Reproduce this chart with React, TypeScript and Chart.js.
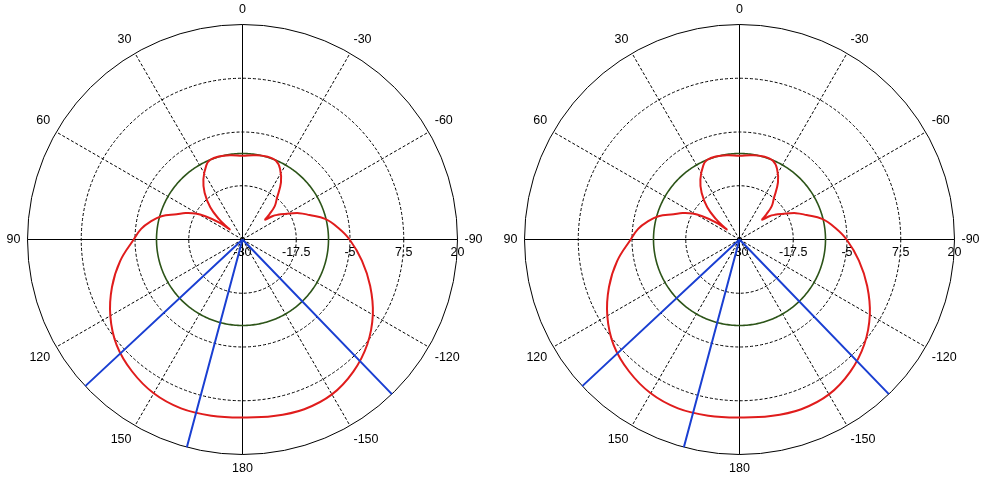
import React, { useEffect, useRef } from 'react';
import { Chart, registerables } from 'chart.js';

Chart.register(...registerables);

// ---- data ----
const ANGLE_STEPS = 360; // one radar spoke per degree
const angleTickLabels = [0, 30, 60, 90, 120, 150, 180, -150, -120, -90, -60, -30];
const radialTickValues = [-30, -17.5, -5, 7.5, 20];
const radialMin = -30;
const radialMax = 20;
const radialStep = 12.5;

// Red pattern: angle (deg, counter-clockwise from top) and level (dB)
const redAngles = [
  0, 8, 16, 22, 26, 33, 39, 45, 49, 51, 52, 54, 58, 61, 65, 69, 74, 79, 84, 90,
  100, 110, 120, 130, 140, 150, 160, 170, 180,
  -170, -160, -150, -140, -130, -120, -110, -100, -90, -83, -76, -70, -65,
  -59, -55, -52, -49, -47, -44, -40, -34, -28, -23, -16, -8,
];
const redValues = [
  -10.5, -10.2, -9.9, -10.0, -10.8, -13.3, -16.0, -19.4, -22.7, -25.2, -26.2, -23.2, -19.8, -17.5, -15.4, -13.6, -10.4, -8.2, -6.3, -4.7,
  -1.1, 2.3, 5.5, 8.2, 10.0, 11.3, 11.8, 11.6, 11.4,
  11.7, 12.0, 11.6, 10.1, 7.9, 5.0, 1.6, -1.8, -5.1, -7.6, -10.2, -13.4, -15.5,
  -18.5, -20.0, -21.2, -23.0, -21.5, -19.2, -17.6, -14.0, -11.4, -10.1, -9.9, -10.2,
];

// Green reference ring (dB)
const greenLevel = -10;

// Blue radial markers (deg)
const blueAngles = [133, 165, -136];

// ---- helpers ----
const FONT_FAMILY = '"Liberation Sans", Arial, sans-serif';
const FONT_SIZE = 12.5;

function indexForAngle(a: number): number {
  return ((Math.round(-a) % ANGLE_STEPS) + ANGLE_STEPS) % ANGLE_STEPS;
}

function buildLabels(): string[] {
  const labels: string[] = new Array(ANGLE_STEPS).fill('');
  angleTickLabels.forEach((a) => {
    labels[indexForAngle(a)] = String(a);
  });
  return labels;
}

function buildRed(): (number | null)[] {
  const d: (number | null)[] = new Array(ANGLE_STEPS).fill(null);
  redAngles.forEach((a, i) => {
    d[indexForAngle(a)] = redValues[i];
  });
  return d;
}

function buildGreen(): number[] {
  return new Array(ANGLE_STEPS).fill(greenLevel);
}

function buildBlue(): (number | null)[] {
  const d: (number | null)[] = new Array(ANGLE_STEPS).fill(null);
  blueAngles.forEach((a) => {
    const k = indexForAngle(a);
    d[(k + ANGLE_STEPS - 1) % ANGLE_STEPS] = radialMin;
    d[k] = radialMax;
  });
  return d;
}

// half-pixel shift so 1px grid lines are crisp
const crispPlugin = {
  id: 'crispShift',
  beforeDraw(chart: any) {
    chart.ctx.save();
    chart.ctx.translate(0.5, 0.5);
  },
  afterDraw(chart: any) {
    chart.ctx.restore();
  },
};

const tickLabelPlugin = {
  id: 'radialTickLabels',
  beforeDatasetsDraw(chart: any) {
    const s = chart.scales.r;
    const ctx = chart.ctx;
    ctx.save();
    ctx.font = `${FONT_SIZE}px ${FONT_FAMILY}`;
    ctx.fillStyle = '#000';
    ctx.textAlign = 'center';
    ctx.textBaseline = 'middle';
    radialTickValues.forEach((v) => {
      const d = s.getDistanceFromCenterForValue(v);
      ctx.fillText(String(v), s.xCenter + d, s.yCenter + 13.5);
    });
    ctx.restore();
  },
};

const CANVAS_W = 540;
const CANVAS_H = 474;

function PolarPlot({ centerX, centerY }: { centerX: number; centerY: number }) {
  const ref = useRef<HTMLCanvasElement>(null);

  useEffect(() => {
    const chart = new Chart(ref.current as HTMLCanvasElement, {
      type: 'radar',
      data: {
        labels: buildLabels(),
        datasets: [
          {
            label: 'markers',
            data: buildBlue(),
            borderColor: '#1a3fd2',
            borderWidth: 2,
            spanGaps: false,
            fill: false,
            pointRadius: 0,
            tension: 0,
          },
          {
            label: 'pattern',
            data: buildRed(),
            borderColor: '#e01c1c',
            borderWidth: 2,
            spanGaps: true,
            fill: false,
            pointRadius: 0,
            tension: 0.4,
          },
          {
            label: 'reference',
            data: buildGreen(),
            borderColor: '#2c5418',
            borderWidth: 1.6,
            fill: false,
            pointRadius: 0,
            tension: 0,
          },
        ],
      },
      options: {
        animation: false,
        responsive: false,
        maintainAspectRatio: false,
        events: [],
        layout: { padding: 0 },
        plugins: { legend: { display: false }, tooltip: { enabled: false } },
        elements: { point: { radius: 0, hoverRadius: 0 }, line: { fill: false } },
        scales: {
          r: {
            min: radialMin,
            max: radialMax,
            startAngle: 0,
            ticks: { display: false, stepSize: radialStep },
            grid: { circular: true, color: '#000', lineWidth: 1 },
            border: { dash: (ctx: any) => (ctx.tick && ctx.tick.value === radialMax ? [] : [3, 2]) } as any,
            angleLines: {
              display: true,
              color: '#000',
              lineWidth: (ctx: any) => (ctx.index % 30 === 0 ? 1 : 0),
              borderDash: (ctx: any) => (ctx.index % 90 === 0 ? [] : [3, 2]),
            } as any,
            pointLabels: {
              display: true,
              padding: 7,
              color: '#000',
              font: { family: FONT_FAMILY, size: FONT_SIZE },
            },
          },
        },
      } as any,
      plugins: [crispPlugin, tickLabelPlugin],
    });
    return () => chart.destroy();
  }, []);

  const left = centerX - Math.floor(CANVAS_W / 2);
  const top = centerY - Math.floor(CANVAS_H / 2);
  return (
    <canvas
      ref={ref}
      width={CANVAS_W}
      height={CANVAS_H}
      style={{ position: 'absolute', left, top, width: CANVAS_W, height: CANVAS_H }}
    />
  );
}

export default function App() {
  return (
    <div
      style={{
        position: 'fixed',
        left: 0,
        top: 0,
        width: 985,
        height: 478,
        overflow: 'hidden',
        background: '#fff',
      }}
    >
      <PolarPlot centerX={242} centerY={239} />
      <PolarPlot centerX={739} centerY={239} />
    </div>
  );
}
